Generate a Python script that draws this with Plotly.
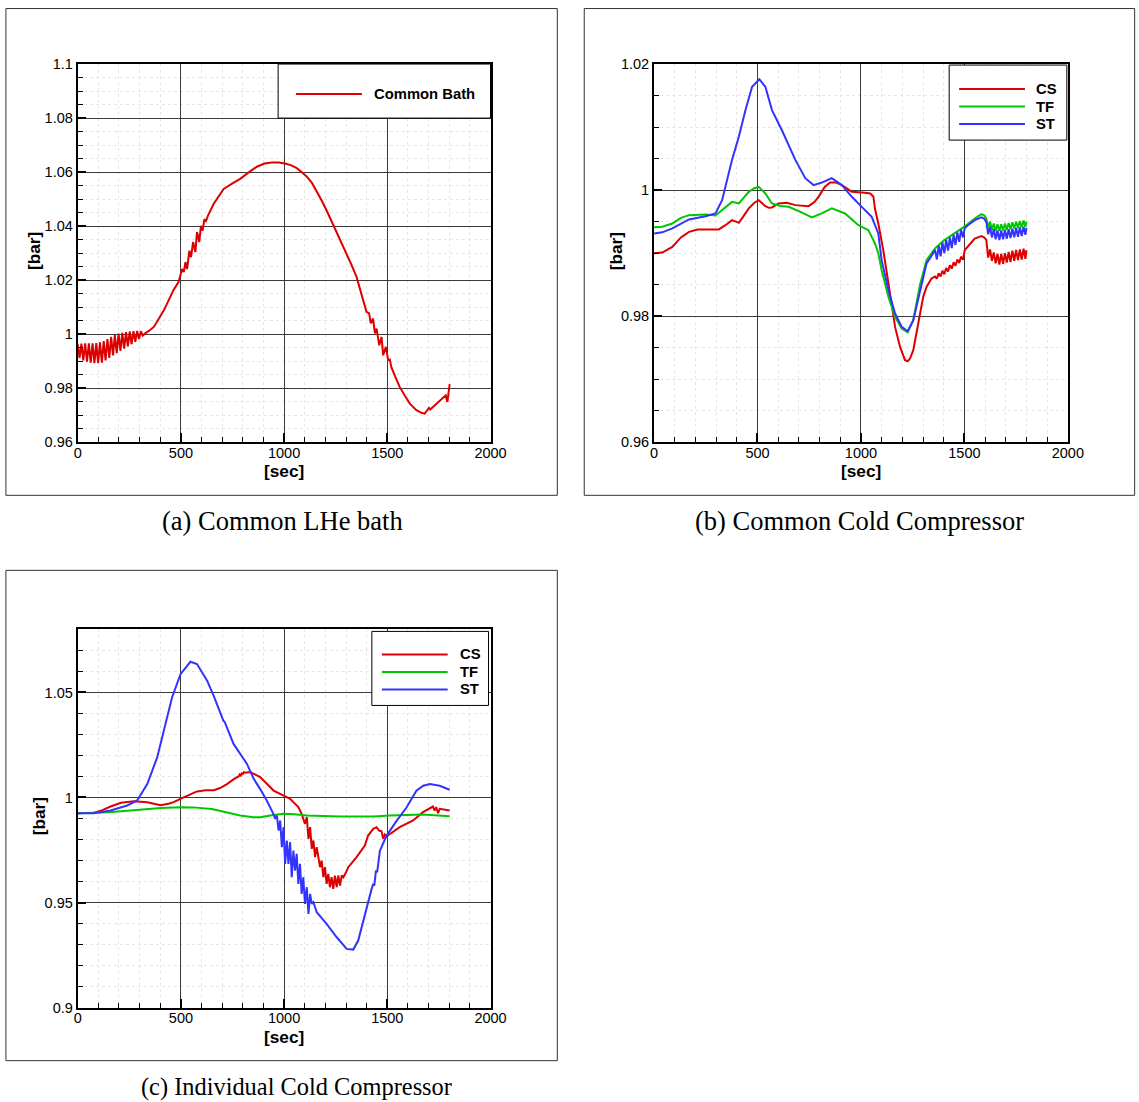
import plotly.graph_objects as go

# ---------------- data ----------------
# (a) common LHe bath pressure [bar] vs time [sec]
t_bath = [0, 9, 18, 27, 36, 45, 54, 63, 72, 81, 90, 99, 108, 117, 126, 135, 144, 153,
          162, 171, 180, 189, 198, 207, 216, 225, 234, 243, 252, 261, 270, 279, 288, 297,
          306, 315, 330, 345, 370, 400, 420, 441, 465, 489, 494, 506, 514, 522, 530, 541,
          549, 559, 570, 578, 589, 597, 605, 614, 622, 631, 659, 707, 750, 787, 830, 868,
          905, 940, 975, 1005, 1035, 1061, 1085, 1110, 1135, 1158, 1182, 1206, 1230, 1255,
          1280, 1303, 1327, 1351, 1375, 1399, 1412, 1420, 1431, 1440, 1448, 1461, 1472,
          1480, 1493, 1504, 1512, 1520, 1540, 1560, 1585, 1609, 1641, 1665, 1681, 1692,
          1702, 1708, 1725, 1745, 1765, 1783, 1791, 1802]
p_bath = [0.9962, 0.9912, 0.9965, 0.9903, 0.9966, 0.9898, 0.9966, 0.9895, 0.9966, 0.9893,
          0.9967, 0.9893, 0.9970, 0.9895, 0.9975, 0.9903, 0.9982, 0.9912, 0.9990, 0.9922,
          0.9997, 0.9930, 1.0002, 0.9938, 1.0005, 0.9947, 1.0008, 0.9955, 1.0010, 0.9963,
          1.0011, 0.9972, 1.0012, 0.9982, 1.0011, 0.9995, 1.0005, 1.0012, 1.0028, 1.0064,
          1.0092, 1.0126, 1.0165, 1.0194, 1.0208, 1.0241, 1.0230, 1.0267, 1.0241, 1.0309,
          1.0285, 1.0341, 1.0304, 1.0378, 1.0341, 1.0401, 1.0383, 1.0426, 1.0420, 1.0439,
          1.0483, 1.0538, 1.0558, 1.0575, 1.0600, 1.0620, 1.0632, 1.0636, 1.0636, 1.0632,
          1.0625, 1.0615, 1.0600, 1.0583, 1.0560, 1.0530, 1.0495, 1.0458, 1.0418, 1.0378,
          1.0338, 1.0299, 1.0256, 1.0212, 1.0150, 1.0083, 1.0077, 1.0040, 1.0058, 1.0003,
          1.0021, 0.9959, 0.9990, 0.9922, 0.9953, 0.9904, 0.9906, 0.9877, 0.9840, 0.9805,
          0.9772, 0.9743, 0.9719, 0.9709, 0.9706, 0.9719, 0.9727, 0.9721, 0.9733, 0.9746,
          0.9760, 0.9774, 0.9749, 0.9815]

# (b) common cold compressor
t_b_cs = [0, 40, 88, 130, 169, 210, 249, 313, 345, 377, 395, 410, 435, 458, 485, 506, 520,
          538, 555, 570, 602, 642, 683, 747, 775, 795, 825, 851, 880, 908, 935, 956, 1020,
          1045, 1060, 1068, 1084, 1108, 1133, 1149, 1165, 1189, 1213, 1226, 1237, 1253,
          1269, 1285, 1301, 1317, 1341, 1358, 1367, 1376, 1385, 1394, 1403, 1412, 1421,
          1430, 1439, 1448, 1457, 1466, 1475, 1484, 1493, 1502, 1520, 1550, 1582, 1595,
          1606, 1615, 1624, 1633, 1642, 1651, 1660, 1669, 1678, 1687, 1696, 1705, 1714,
          1723, 1732, 1741, 1750, 1759, 1768, 1777, 1786, 1795, 1800]
p_b_cs = [0.9900, 0.9901, 0.9910, 0.9925, 0.99338, 0.99376, 0.99376, 0.99376, 0.99444,
          0.99524, 0.9950, 0.99481, 0.9960, 0.9971, 0.9980, 0.99841, 0.9980, 0.99746,
          0.9972, 0.99725, 0.99788, 0.99799, 0.99762, 0.99746, 0.9981, 0.99894, 1.0005,
          1.0012, 1.0012, 1.0008, 1.0002, 0.99973, 0.99958, 0.99947, 0.9990, 0.9970,
          0.99471, 0.99048, 0.98519, 0.98148, 0.97830, 0.97513, 0.97302, 0.97286, 0.97328,
          0.9746, 0.97725, 0.98043, 0.98307, 0.98465, 0.98598, 0.98630, 0.98595, 0.98680,
          0.98630, 0.98720, 0.98665, 0.98765, 0.98710, 0.98810, 0.98755, 0.98855, 0.98800,
          0.98900, 0.98845, 0.98945, 0.98895, 0.99050, 0.9912, 0.99233, 0.9927, 0.9925,
          0.9921, 0.9893, 0.9906, 0.9888, 0.9901, 0.9884, 0.9899, 0.9882, 0.9899, 0.9883,
          0.9900, 0.9885, 0.9902, 0.9886, 0.9904, 0.9888, 0.9905, 0.9889, 0.9906, 0.9890,
          0.9907, 0.9891, 0.9905]

t_b_tf = [0, 40, 88, 130, 169, 210, 249, 297, 345, 377, 410, 435, 458, 485, 506, 538, 570,
          610, 651, 710, 763, 810, 859, 923, 988, 1036, 1068, 1084, 1100, 1133, 1165, 1197,
          1226, 1253, 1285, 1317, 1358, 1400, 1450, 1500, 1550, 1582, 1595, 1606, 1615,
          1624, 1633, 1642, 1651, 1660, 1669, 1678, 1687, 1696, 1705, 1714, 1723, 1732,
          1741, 1750, 1759, 1768, 1777, 1786, 1795, 1800]
p_b_tf = [0.9941, 0.9942, 0.99471, 0.9956, 0.99603, 0.99614, 0.99614, 0.99598, 0.99735,
          0.99814, 0.99788, 0.9988, 0.99973, 1.0003, 1.00052, 0.99947, 0.99788, 0.9975,
          0.99735, 0.9965, 0.99567, 0.9963, 0.9971, 0.9963, 0.99444, 0.99365, 0.99154,
          0.9900, 0.98730, 0.98307, 0.97989, 0.97805, 0.97746, 0.97937, 0.9849, 0.98889,
          0.99074, 0.9920, 0.9931, 0.9942, 0.9955, 0.9962, 0.9960, 0.9955, 0.9941, 0.9950,
          0.9937, 0.9947, 0.9935, 0.9946, 0.9935, 0.9946, 0.9936, 0.9947, 0.9937, 0.9948,
          0.9938, 0.9949, 0.9939, 0.9950, 0.9940, 0.9951, 0.9941, 0.9952, 0.9942, 0.9950]

t_b_st = [0, 40, 88, 169, 249, 297, 329, 377, 410, 442, 474, 509, 538, 570, 618, 683, 731,
          771, 811, 859, 908, 956, 1004, 1052, 1084, 1100, 1133, 1165, 1197, 1226, 1253,
          1285, 1317, 1340, 1358, 1367, 1376, 1385, 1394, 1403, 1412, 1421, 1430, 1439,
          1448, 1457, 1466, 1475, 1484, 1493, 1502, 1520, 1550, 1582, 1595, 1606, 1615,
          1624, 1633, 1642, 1651, 1660, 1669, 1678, 1687, 1696, 1705, 1714, 1723, 1732,
          1741, 1750, 1759, 1768, 1777, 1786, 1795, 1800]
p_b_st = [0.99312, 0.9933, 0.99392, 0.99535, 0.99587, 0.9963, 0.9984, 1.0048, 1.0085,
          1.0127, 1.0164, 1.0176, 1.0164, 1.0127, 1.0095, 1.0048, 1.0019, 1.0008, 1.0012,
          1.0019, 1.0008, 0.99894, 0.99735, 0.99576, 0.99312, 0.98889, 0.98413, 0.98042,
          0.9783, 0.97762, 0.97937, 0.98413, 0.98836, 0.9895, 0.9905, 0.9890, 0.9912,
          0.9895, 0.9917, 0.9900, 0.9921, 0.9904, 0.9925, 0.9908, 0.9929, 0.9913, 0.9933,
          0.9918, 0.9937, 0.9925, 0.9940, 0.9945, 0.99524, 0.99567, 0.9955, 0.99497,
          0.9930, 0.9942, 0.9925, 0.9938, 0.9922, 0.9936, 0.9921, 0.9936, 0.9922, 0.9937,
          0.9923, 0.9938, 0.9924, 0.9939, 0.9925, 0.9940, 0.9926, 0.9941, 0.9927, 0.9942,
          0.9929, 0.9940]

# (c) individual cold compressor
t_c_cs = [0, 79, 120, 159, 210, 272, 337, 401, 440, 465, 500, 530, 578, 620, 659, 690, 723,
          760, 780, 785, 790, 795, 800, 805, 812, 836, 884, 949, 997, 1029, 1045, 1069,
          1085, 1093, 1101, 1110, 1118, 1126, 1134, 1142, 1150, 1158, 1174, 1182, 1190,
          1198, 1206, 1214, 1222, 1230, 1238, 1246, 1255, 1262, 1271, 1279, 1287, 1300,
          1311, 1351, 1391, 1407, 1432, 1448, 1460, 1472, 1480, 1488, 1496, 1560, 1625,
          1673, 1705, 1721, 1729, 1737, 1746, 1754, 1802]
p_c_cs = [0.9925, 0.9928, 0.9940, 0.99571, 0.9975, 0.9982, 0.99778, 0.99635, 0.9970,
          0.99778, 0.9995, 1.0009, 1.0029, 1.0034, 1.0035, 1.0045, 1.0064, 1.0090, 1.0100,
          1.0110, 1.0105, 1.0115, 1.0112, 1.0120, 1.0118, 1.0121, 1.0097, 1.0033, 1.0010,
          0.99937, 0.99778, 0.99540, 0.99222, 0.98984, 0.98746, 0.99063, 0.98032, 0.98587,
          0.97556, 0.97952, 0.97159, 0.97635, 0.96683, 0.97000, 0.96206, 0.96683, 0.95889,
          0.96365, 0.95730, 0.96206, 0.95651, 0.96286, 0.95730, 0.96286, 0.95810, 0.96286,
          0.96206, 0.96444, 0.96683, 0.97159, 0.97714, 0.98190, 0.98508, 0.98587, 0.98429,
          0.98397, 0.98032, 0.98238, 0.98143, 0.98587, 0.98905, 0.99302, 0.99460, 0.99571,
          0.99381, 0.99540, 0.99254, 0.99460, 0.99381]

t_c_tf = [0, 150, 300, 400, 498, 560, 650, 723, 787, 852, 884, 940, 997, 1050, 1110, 1270,
          1432, 1513, 1600, 1674, 1802]
p_c_tf = [0.9925, 0.9930, 0.9942, 0.9950, 0.9954, 0.9953, 0.9945, 0.9930, 0.99143, 0.9906,
          0.99064, 0.9915, 0.99222, 0.9920, 0.99143, 0.99095, 0.99095, 0.99143, 0.9918,
          0.9919, 0.99111]

t_c_st = [0, 79, 159, 240, 288, 337, 385, 417, 457, 498, 546, 578, 627, 659, 691, 700, 706,
          712, 718, 724, 755, 820, 852, 884, 916, 948, 957, 965, 973, 981, 989, 997, 1005,
          1013, 1021, 1029, 1037, 1045, 1053, 1061, 1069, 1077, 1085, 1093, 1101, 1110,
          1118, 1126, 1134, 1142, 1158, 1206, 1255, 1303, 1335, 1359, 1384, 1407, 1424,
          1432, 1437, 1445, 1451, 1464, 1496, 1545, 1593, 1641, 1674, 1706, 1754, 1802]
p_c_st = [0.99254, 0.99254, 0.99381, 0.9962, 0.99857, 1.0064, 1.0191, 1.0318, 1.0476,
          1.0587, 1.0646, 1.0635, 1.0556, 1.0484, 1.0397, 1.0380, 1.0365, 1.0360, 1.0345,
          1.0330, 1.0255, 1.0160, 1.0090, 1.0040, 0.99857, 0.99222, 0.98984, 0.99143,
          0.98429, 0.98905, 0.97635, 0.98587, 0.96841, 0.97952, 0.96841, 0.97873, 0.96206,
          0.97476, 0.96524, 0.97317, 0.95889, 0.96841, 0.95413, 0.96206, 0.94937, 0.95730,
          0.94460, 0.95413, 0.94937, 0.95016, 0.94540, 0.93984, 0.93349, 0.92794, 0.92762,
          0.93190, 0.94143, 0.95095, 0.95651, 0.95889, 0.95810, 0.96524, 0.96450, 0.97460,
          0.98175, 0.98889, 0.99524, 1.0032, 1.0056, 1.0064, 1.0056, 1.0037]

# ---------------- layout ----------------
# Positions below are given on a 1139 x 1102 pixel sheet; the plot div is
# slightly larger and offset, so sheet pixels are mapped through this affine.
SX, OX = 0.9855, 3.08
SY, OY = 0.985, 7.98
W, H = 1153, 1111
K = 1 / SX                       # size factor for fonts
RED, GREEN, BLUE = "#dd0000", "#00c800", "#3333ff"
SANS = "Liberation Sans, Arial, sans-serif"
SERIF = "Liberation Serif, Times New Roman, serif"


def fx(px):
    """sheet pixel column -> paper fraction"""
    return min(max((px - OX) / SX / W, 0.0005), 0.9995)


def fy(py):
    """sheet pixel row -> paper fraction"""
    return min(max(1 - (py - OY) / SY / H, 0.0005), 0.9995)


def xaxis_style(x0, x1, anchor):
    return dict(
        domain=[fx(x0), fx(x1)], anchor=anchor, range=[0, 2000], tick0=0, dtick=500,
        ticks="inside", ticklen=9, tickwidth=1.5, tickcolor="black",
        showline=True, linewidth=2, linecolor="black", mirror=True,
        showgrid=True, gridcolor="#3a3a3a", gridwidth=1, zeroline=False,
        tickfont=dict(family=SANS, size=14.3 * K, color="black"), ticklabelstandoff=-4,
        minor=dict(tick0=0, dtick=100, ticks="inside", ticklen=5, tickwidth=1,
                   tickcolor="black", showgrid=True, gridcolor="#e6e6e6",
                   griddash="dot", gridwidth=1),
    )


def yaxis_style(y_top, y_bot, anchor, rng, dtick, mdtick):
    return dict(
        domain=[fy(y_bot), fy(y_top)], anchor=anchor, range=rng, tick0=rng[0],
        dtick=dtick, ticks="inside", ticklen=8, tickwidth=1.5, tickcolor="black",
        showline=True, linewidth=2, linecolor="black", mirror=True,
        showgrid=True, gridcolor="#3a3a3a", gridwidth=1, zeroline=False,
        tickfont=dict(family=SANS, size=14.3 * K, color="black"),
        minor=dict(tick0=rng[0], dtick=mdtick, ticks="inside", ticklen=5, tickwidth=1,
                   tickcolor="black", showgrid=True, gridcolor="#e6e6e6",
                   griddash="dot", gridwidth=1),
    )


fig = go.Figure()

line = dict(width=2)
fig.add_trace(go.Scatter(x=t_bath, y=p_bath, mode="lines", name="Common Bath",
                         line=dict(color=RED, **line), xaxis="x", yaxis="y",
                         showlegend=False))
for t, p, c, n in [(t_b_cs, p_b_cs, RED, "CS"), (t_b_tf, p_b_tf, GREEN, "TF"),
                   (t_b_st, p_b_st, BLUE, "ST")]:
    fig.add_trace(go.Scatter(x=t, y=p, mode="lines", name=n, line=dict(color=c, **line),
                             xaxis="x2", yaxis="y2", showlegend=False))
for t, p, c, n in [(t_c_cs, p_c_cs, RED, "CS"), (t_c_tf, p_c_tf, GREEN, "TF"),
                   (t_c_st, p_c_st, BLUE, "ST")]:
    fig.add_trace(go.Scatter(x=t, y=p, mode="lines", name=n, line=dict(color=c, **line),
                             xaxis="x3", yaxis="y3", showlegend=False))

shapes = []
annotations = []

# panel frames
for (x0, y0, x1, y1) in [(5, 5, 558, 495), (585, 5, 1137, 495), (5, 570, 558, 1060)]:
    shapes.append(dict(type="rect", xref="paper", yref="paper", x0=fx(x0), x1=fx(x1),
                       y0=fy(y1), y1=fy(y0), line=dict(color="#333", width=1),
                       layer="below"))


def legend_box(x0, y0, x1, y1, items, lx0, lx1, tx):
    shapes.append(dict(type="rect", xref="paper", yref="paper", x0=fx(x0), x1=fx(x1),
                       y0=fy(y1), y1=fy(y0), fillcolor="white",
                       line=dict(color="black", width=1)))
    for name, color, yy in items:
        shapes.append(dict(type="line", xref="paper", yref="paper", x0=fx(lx0),
                           x1=fx(lx1), y0=fy(yy), y1=fy(yy),
                           line=dict(color=color, width=2)))
        annotations.append(dict(text=f"<b>{name}</b>", xref="paper", yref="paper",
                                x=fx(tx), y=fy(yy), xanchor="left", yanchor="middle",
                                showarrow=False,
                                font=dict(family=SANS, size=14.6 * K, color="black")))


legend_box(278, 64, 491, 118, [("Common Bath", RED, 94)], 296, 362, 372)
legend_box(951, 65, 1069, 140, [("CS", RED, 89), ("TF", GREEN, 106.5), ("ST", BLUE, 124)],
           961, 1027, 1036)
legend_box(372, 631, 489, 705, [("CS", RED, 654), ("TF", GREEN, 671.5), ("ST", BLUE, 689)],
           382, 448, 458)

# axis titles
for cx, cy in [(284, 471), (863, 471), (284, 1036)]:
    annotations.append(dict(text="<b>[sec]</b>", xref="paper", yref="paper",
                            x=fx(cx), y=fy(cy), xanchor="center", yanchor="middle",
                            showarrow=False,
                            font=dict(family=SANS, size=17 * K, color="black")))
for cx, cy in [(33, 251), (617, 251), (38, 816)]:
    annotations.append(dict(text="<b>[bar]</b>", xref="paper", yref="paper",
                            x=fx(cx), y=fy(cy), xanchor="center", yanchor="middle",
                            textangle=-90, showarrow=False,
                            font=dict(family=SANS, size=17 * K, color="black")))

# captions
for text, cx, cy, fs in [("(a) Common LHe bath", 282, 521, 26.5),
                         ("(b) Common Cold Compressor", 861, 521, 26.5),
                         ("(c) Individual Cold Compressor", 296, 1086, 24.4)]:
    annotations.append(dict(text=text, xref="paper", yref="paper", x=fx(cx), y=fy(cy),
                            xanchor="center", yanchor="middle", showarrow=False,
                            font=dict(family=SERIF, size=fs, color="black")))

fig.update_layout(
    width=W, height=H, margin=dict(l=0, r=0, t=0, b=0),
    paper_bgcolor="white", plot_bgcolor="white", showlegend=False,
    xaxis=xaxis_style(77, 491, "y"),
    yaxis=yaxis_style(64, 442, "x", [0.96, 1.1], 0.02, 0.005),
    xaxis2=xaxis_style(655, 1070, "y2"),
    yaxis2=yaxis_style(64, 442, "x2", [0.96, 1.02], 0.02, 0.005),
    xaxis3=xaxis_style(77, 491, "y3"),
    yaxis3=yaxis_style(629, 1007, "x3", [0.9, 1.08], 0.05, 0.01),
    shapes=shapes, annotations=annotations,
)

fig.write_html("out.html")
